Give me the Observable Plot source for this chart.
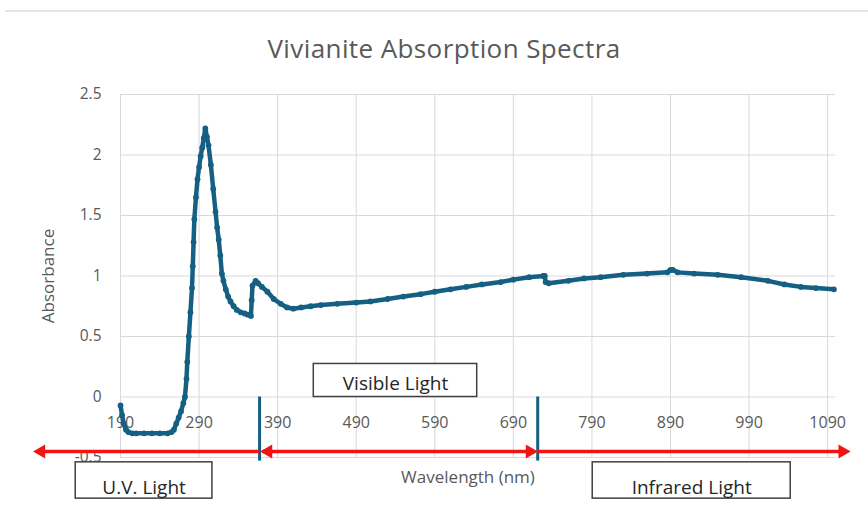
<!DOCTYPE html>
<html><head><meta charset="utf-8">
<script src="https://cdn.jsdelivr.net/npm/d3@7"></script>
<script src="https://cdn.jsdelivr.net/npm/@observablehq/plot@0.6"></script>
<style>
body{margin:0;background:#fff;font-family:"Open Sans",sans-serif;}
#title{margin:10px 0 0 5px;border-top:2px solid #e6e6e6;height:58px;box-sizing:border-box;
 padding:20px 0 0 15px;text-align:center;font-size:26px;line-height:32px;color:#595959;letter-spacing:0.4px;}
#chart svg{display:block;}
</style></head><body>
<div id="title">Vivianite Absorption Spectra</div>
<div id="chart"></div>
<script>
const wavelength = [190,192,194,197,200,205,210,220,230,240,250,255,258,261,264,267,270,272,274,275,277,279,281,282,283,284,286,288,290,292,294,296,298,300,302,305,308,311,313,315,317,319,321,324,327,330,334,338,343,348,352,356,357,358,362,365,370,377,385,394,402,410,420,432,445,466,490,508,530,550,572,590,610,630,650,674,690,710,728,730,731,735,760,780,801,830,860,886,890,893,899,920,950,980,1014,1035,1056,1075,1098];
const absorbance = [-0.07,-0.15,-0.22,-0.27,-0.29,-0.30,-0.30,-0.30,-0.30,-0.30,-0.30,-0.29,-0.27,-0.22,-0.17,-0.12,-0.05,0.0,0.15,0.29,0.50,0.70,0.90,1.08,1.28,1.47,1.65,1.80,1.90,1.99,2.06,2.14,2.22,2.15,2.08,1.92,1.72,1.53,1.40,1.30,1.17,1.02,0.96,0.89,0.83,0.79,0.75,0.72,0.70,0.69,0.68,0.67,0.80,0.92,0.96,0.94,0.91,0.87,0.81,0.77,0.74,0.73,0.74,0.75,0.76,0.77,0.78,0.79,0.81,0.83,0.85,0.87,0.89,0.91,0.93,0.95,0.97,0.99,1.00,1.00,0.95,0.94,0.96,0.98,0.99,1.01,1.02,1.03,1.05,1.05,1.03,1.02,1.01,0.99,0.96,0.93,0.91,0.90,0.89];
const xTicks = [190,290,390,490,590,690,790,890,990,1090];
const yTicks = [-0.5,0,0.5,1,1.5,2,2.5];

// annotations (in data units)
const boundaries = [367, 721];
const boundaryBottom = -0.53;
const arrowY = -0.45;
const arrowFrom = [367, 371, 721];
const arrowTo = [92, 718, 1110];
const arrowHeadX = [89, 378, 711, 1109];
const arrowHeadAngle = [-90, -90, 90, 90];
const regionNames = ["U.V. Light", "Visible Light", "Infrared Light"];
const regionLeft = [133, 436, 791];
const regionRight = [307, 644, 1043];
const regionBottom = [-0.84, 0, -0.84];
const regionTop = [-0.54, 0.273, -0.54];
const regionTextY = [-0.75, 0.11, -0.75];

const blue = "#156082", red = "#f01414", grid = "#d9d9d9";
const data = wavelength.map((w, i) => ({w, a: absorbance[i]}));
const arrows = arrowFrom.map((f, i) => ({x1: f, x2: arrowTo[i]}));
const heads = arrowHeadX.map((x, i) => ({x, r: arrowHeadAngle[i]}));
const regions = regionNames.map((name, i) => ({name, x1: regionLeft[i], x2: regionRight[i], y1: regionBottom[i], y2: regionTop[i], ty: regionTextY[i]}));

const chart = Plot.plot({
  width: 868, height: 444,
  marginTop: 26, marginBottom: 55, marginLeft: 120, marginRight: 33,
  style: {color: "#595959", fontFamily: "'Open Sans', sans-serif", background: "white"},
  x: {domain: [190, 1100], axis: null},
  y: {domain: [-0.5, 2.5], axis: null},
  marks: [
    Plot.ruleX(xTicks, {stroke: grid, strokeWidth: 1}),
    Plot.ruleY(yTicks, {stroke: grid, strokeWidth: 1}),
    Plot.axisY(yTicks, {tickSize: 0, tickPadding: 19, fontSize: 15.5, tickFormat: d => String(d), label: null}),
    Plot.text(xTicks, {x: d => d, y: () => 0, dy: 26, text: d => String(d), fontSize: 16, fill: "#595959"}),
    Plot.text(["Absorbance"], {frameAnchor: "left", textAnchor: "middle", lineAnchor: "middle", rotate: -90, dx: -72, text: d => d, fontSize: 17, fill: "#595959"}),
    Plot.text(["Wavelength (nm)"], {frameAnchor: "bottom", lineAnchor: "middle", dx: -10, dy: 20, text: d => d, fontSize: 17, fill: "#595959"}),
    Plot.line(data, {x: "w", y: "a", stroke: blue, strokeWidth: 4.5}),
    Plot.dot(data, {x: "w", y: "a", r: 2.9, fill: blue}),
    Plot.ruleX(boundaries, {x: d => d, y1: () => 0, y2: () => boundaryBottom, stroke: blue, strokeWidth: 3}),
    Plot.ruleY(arrows, {y: () => arrowY, x1: "x1", x2: "x2", stroke: red, strokeWidth: 3.5}),
    Plot.dot(heads, {x: "x", y: () => arrowY, symbol: "triangle", rotate: "r", r: 5.2, fill: red, stroke: "none"}),
    Plot.rect(regions, {x1: "x1", x2: "x2", y1: "y1", y2: "y2", fill: "white", stroke: "#404040", strokeWidth: 1.5}),
    Plot.text(regions, {x: d => (d.x1 + d.x2) / 2, y: "ty", text: "name", fontSize: 19, fill: "#262626"})
  ]
});
document.getElementById("chart").appendChild(chart);
</script>
</body></html>
